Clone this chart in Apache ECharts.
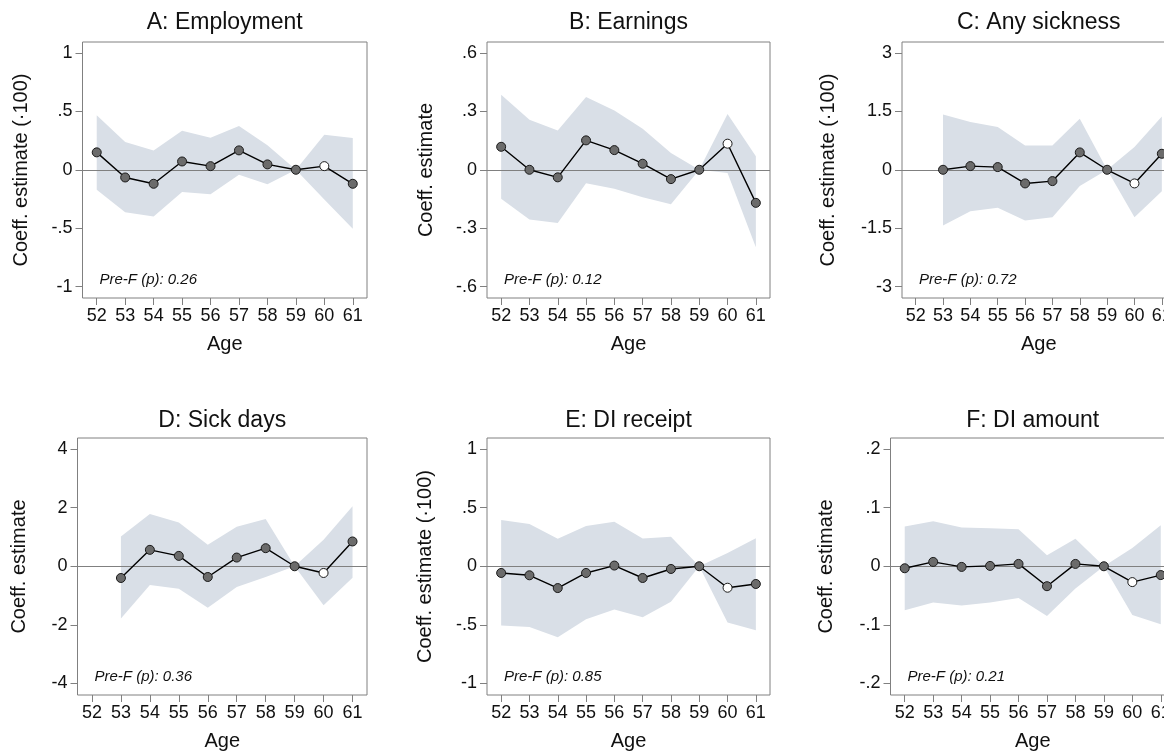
<!DOCTYPE html>
<html>
<head>
<meta charset="utf-8">
<script src="https://cdn.jsdelivr.net/npm/echarts@6/dist/echarts.min.js"></script>
<style>html,body{margin:0;padding:0;background:#fff;}#c{width:1164px;height:755px;}</style>
</head>
<body>
<div id="c"></div>
<script>
// ---- data ----
const ages = ['52','53','54','55','56','57','58','59','60','61'];

const empEst = [0.149,-0.066,-0.12,0.071,0.031,0.166,0.046,0,0.031,-0.12];
const empUp  = [0.466,0.237,0.166,0.334,0.274,0.374,0.209,0,0.30,0.271];
const empLo  = [-0.171,-0.363,-0.40,-0.191,-0.209,-0.043,-0.123,0,-0.254,-0.506];

const earnEst = [0.118,0.0,-0.039,0.151,0.101,0.031,-0.048,0,0.134,-0.170];
const earnUp  = [0.386,0.257,0.202,0.374,0.305,0.211,0.086,0,0.286,0.069];
const earnLo  = [-0.149,-0.255,-0.274,-0.069,-0.098,-0.141,-0.177,0,-0.017,-0.398];

const sickEst = [null,0,0.094,0.069,-0.351,-0.291,0.446,0,-0.351,0.411];
const sickUp  = [null,1.42,1.226,1.097,0.626,0.626,1.311,0,0.583,1.371];
const sickLo  = [null,-1.431,-1.063,-0.977,-1.303,-1.217,-0.42,0,-1.217,-0.549];

const daysEst = [null,-0.40,0.56,0.354,-0.366,0.297,0.617,0,-0.229,0.846];
const daysUp  = [null,1.017,1.783,1.497,0.731,1.349,1.611,0,0.903,2.046];
const daysLo  = [null,-1.783,-0.64,-0.766,-1.417,-0.709,-0.366,0,-1.326,-0.389];

const diEst = [-0.057,-0.077,-0.186,-0.057,0.006,-0.10,-0.023,0,-0.183,-0.151];
const diUp  = [0.394,0.36,0.234,0.343,0.38,0.237,0.251,0,0.114,0.24];
const diLo  = [-0.506,-0.517,-0.606,-0.451,-0.369,-0.434,-0.303,0,-0.48,-0.546];

const amtEst = [-0.0034,0.0074,-0.0011,0.0006,0.004,-0.034,0.004,0,-0.027,-0.015];
const amtUp  = [0.068,0.077,0.066,0.065,0.063,0.019,0.047,0,0.031,0.070];
const amtLo  = [-0.075,-0.062,-0.067,-0.062,-0.054,-0.085,-0.038,0,-0.083,-0.099];

const ticksA = [-1,-0.5,0,0.5,1];
const ticksB = [-0.6,-0.3,0,0.3,0.6];
const ticksC = [-3,-1.5,0,1.5,3];
const ticksD = [-4,-2,0,2,4];
const ticksE = [-1,-0.5,0,0.5,1];
const ticksF = [-0.2,-0.1,0,0.1,0.2];

const titles = ['A: Employment','B: Earnings','C: Any sickness','D: Sick days','E: DI receipt','F: DI amount'];
const yNames = ['Coeff. estimate (\u00b7100)','Coeff. estimate','Coeff. estimate (\u00b7100)','Coeff. estimate','Coeff. estimate (\u00b7100)','Coeff. estimate'];
const preF = ['Pre-F (p): 0.26','Pre-F (p): 0.12','Pre-F (p): 0.72','Pre-F (p): 0.36','Pre-F (p): 0.85','Pre-F (p): 0.21'];
const refAge = '60';

// ---- layout ----
const FONT = 'Liberation Sans, Arial, Helvetica, sans-serif';
const panels = [
  {est: empEst, up: empUp, lo: empLo, ticks: ticksA, left: 82.5, top: 42, width: 284.5, height: 256, gap: 51},
  {est: earnEst, up: earnUp, lo: earnLo, ticks: ticksB, left: 487, top: 42, width: 283, height: 256, gap: 51},
  {est: sickEst, up: sickUp, lo: sickLo, ticks: ticksC, left: 902, top: 42, width: 273.5, height: 256, gap: 64},
  {est: daysEst, up: daysUp, lo: daysLo, ticks: ticksD, left: 77.5, top: 438, width: 289.5, height: 257, gap: 48},
  {est: diEst, up: diUp, lo: diLo, ticks: ticksE, left: 487, top: 438, width: 283, height: 257, gap: 52},
  {est: amtEst, up: amtUp, lo: amtLo, ticks: ticksF, left: 890.5, top: 438, width: 284.5, height: 257, gap: 54}
];

function fmt(v) {
  if (Math.abs(v) < 1e-12) return '0';
  const s = String(+v.toFixed(4));
  return s.replace(/^(-?)0\./, '$1.');
}

const grid = [], xAxis = [], yAxis = [], series = [], graphic = [];
const GRAY = '#808080';

panels.forEach((p, k) => {
  const R = p.ticks[p.ticks.length - 1];
  grid.push({left: p.left, top: p.top, width: p.width, height: p.height,
    show: true, borderColor: GRAY, borderWidth: 1, backgroundColor: 'transparent',
    containLabel: false, outerBoundsMode: 'none'});
  xAxis.push({type: 'category', gridIndex: k, data: ages, boundaryGap: true, position: 'bottom',
    axisLine: {show: false, onZero: false},
    axisTick: {show: true, alignWithLabel: true, length: 7, lineStyle: {color: GRAY, width: 1}},
    axisLabel: {show: true, interval: 0, margin: 9, fontSize: 18, color: '#111', fontFamily: FONT},
    splitLine: {show: false},
    name: 'Age', nameLocation: 'middle', nameGap: 36,
    nameTextStyle: {fontSize: 20, color: '#111', fontFamily: FONT}});
  yAxis.push({type: 'value', gridIndex: k, min: -R * 1.098, max: R * 1.094, position: 'left',
    axisLine: {show: false, onZero: false},
    axisTick: {show: true, length: 7, customValues: p.ticks, lineStyle: {color: GRAY, width: 1}},
    axisLabel: {show: true, customValues: p.ticks, margin: 10, fontSize: 18, color: '#111', fontFamily: FONT,
      formatter: fmt},
    splitLine: {show: false},
    name: yNames[k], nameLocation: 'middle', nameGap: p.gap, nameRotate: 90,
    nameTextStyle: {fontSize: 20, color: '#111', fontFamily: FONT}});

  const up = p.up, lo = p.lo;
  series.push({type: 'custom', xAxisIndex: k, yAxisIndex: k, z: 1, silent: true,
    data: [[0, 0]],
    renderItem: function (params, api) {
      const pts = [];
      for (let i = 0; i < up.length; i++) if (up[i] != null) pts.push(api.coord([i, up[i]]));
      for (let i = lo.length - 1; i >= 0; i--) if (lo[i] != null) pts.push(api.coord([i, lo[i]]));
      return {type: 'polygon', shape: {points: pts}, style: {fill: '#d9dfe7', stroke: null}};
    }});
  series.push({type: 'line', xAxisIndex: k, yAxisIndex: k, z: 3, silent: true,
    data: p.est.map((v, i) => {
      if (v == null) return '-';
      if (ages[i] === refAge) return {value: v, itemStyle: {color: '#ffffff', borderColor: '#1a1a1a', borderWidth: 1}};
      return v;
    }),
    symbol: 'circle', symbolSize: 9, showSymbol: true, showAllSymbol: true,
    lineStyle: {color: '#000', width: 1.4},
    itemStyle: {color: '#6b6b6b', borderColor: '#1a1a1a', borderWidth: 1},
    markLine: {silent: true, symbol: ['none', 'none'], animation: false, z: 2,
      label: {show: false},
      lineStyle: {color: GRAY, width: 1.2, type: 'solid'},
      data: [{yAxis: 0}]}});

  graphic.push({type: 'text', x: p.left + p.width / 2, y: (p.top < 200 ? 23 : 421), z: 10,
    style: {text: titles[k], font: '23px ' + FONT, fill: '#111', textAlign: 'center', textVerticalAlign: 'middle'}});
  graphic.push({type: 'text', x: p.left + 17, y: p.top + p.height - 18, z: 10,
    style: {text: preF[k], font: 'italic 15px ' + FONT, fill: '#111', textAlign: 'left', textVerticalAlign: 'middle'}});
});

const chart = echarts.init(document.getElementById('c'), null, {renderer: 'canvas'});
chart.setOption({animation: false, backgroundColor: '#fff', grid, xAxis, yAxis, series, graphic});
</script>
</body>
</html>
